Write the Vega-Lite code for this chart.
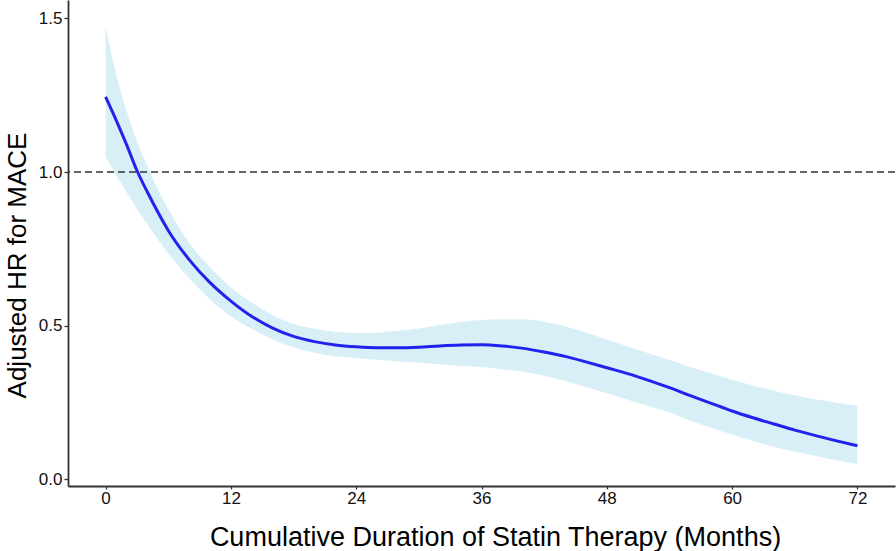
{
  "$schema": "https://vega.github.io/schema/vega-lite/v6.json",
  "width": 827,
  "height": 486,
  "autosize": {"type": "none"},
  "padding": {"left": 68, "top": 0, "right": 1, "bottom": 65},
  "background": "white",
  "config": {
    "view": {"stroke": null},
    "font": "Liberation Sans",
    "axis": {
      "grid": false,
      "domainColor": "#333333",
      "domainWidth": 1.8,
      "tickColor": "#333333",
      "tickWidth": 1.3,
      "tickSize": 4,
      "labelFont": "Liberation Sans",
      "labelFontSize": 17,
      "labelColor": "#111111",
      "titleFont": "Liberation Sans",
      "titleFontWeight": "normal",
      "titleColor": "#000000"
    }
  },
  "datasets": {
    "curve": [
      {"month": 0, "hr": 1.245, "lower": 1.05, "upper": 1.473},
      {"month": 1, "hr": 1.17, "lower": 0.99, "upper": 1.32},
      {"month": 2, "hr": 1.09, "lower": 0.935, "upper": 1.2},
      {"month": 3, "hr": 1.005, "lower": 0.88, "upper": 1.1},
      {"month": 4, "hr": 0.935, "lower": 0.83, "upper": 1.02},
      {"month": 5, "hr": 0.87, "lower": 0.78, "upper": 0.945},
      {"month": 6, "hr": 0.81, "lower": 0.735, "upper": 0.88},
      {"month": 8, "hr": 0.715, "lower": 0.655, "upper": 0.77},
      {"month": 10, "hr": 0.64, "lower": 0.585, "upper": 0.69},
      {"month": 12, "hr": 0.58, "lower": 0.53, "upper": 0.625},
      {"month": 14, "hr": 0.53, "lower": 0.49, "upper": 0.575},
      {"month": 16, "hr": 0.492, "lower": 0.455, "upper": 0.535},
      {"month": 18, "hr": 0.465, "lower": 0.43, "upper": 0.505},
      {"month": 20, "hr": 0.448, "lower": 0.412, "upper": 0.49},
      {"month": 22, "hr": 0.437, "lower": 0.4, "upper": 0.48},
      {"month": 24, "hr": 0.431, "lower": 0.394, "upper": 0.476},
      {"month": 26, "hr": 0.428, "lower": 0.389, "upper": 0.477},
      {"month": 28, "hr": 0.428, "lower": 0.384, "upper": 0.483},
      {"month": 30, "hr": 0.43, "lower": 0.379, "upper": 0.491},
      {"month": 32, "hr": 0.434, "lower": 0.374, "upper": 0.502},
      {"month": 34, "hr": 0.437, "lower": 0.369, "upper": 0.512},
      {"month": 36, "hr": 0.438, "lower": 0.365, "upper": 0.518},
      {"month": 38, "hr": 0.434, "lower": 0.358, "upper": 0.521},
      {"month": 40, "hr": 0.426, "lower": 0.35, "upper": 0.521},
      {"month": 42, "hr": 0.414, "lower": 0.337, "upper": 0.513},
      {"month": 44, "hr": 0.4, "lower": 0.32, "upper": 0.498},
      {"month": 46, "hr": 0.382, "lower": 0.3, "upper": 0.478},
      {"month": 48, "hr": 0.363, "lower": 0.28, "upper": 0.455},
      {"month": 50, "hr": 0.344, "lower": 0.259, "upper": 0.432},
      {"month": 52, "hr": 0.322, "lower": 0.238, "upper": 0.41},
      {"month": 54, "hr": 0.298, "lower": 0.218, "upper": 0.388},
      {"month": 56, "hr": 0.272, "lower": 0.19, "upper": 0.365},
      {"month": 58, "hr": 0.247, "lower": 0.168, "upper": 0.344},
      {"month": 60, "hr": 0.222, "lower": 0.146, "upper": 0.324},
      {"month": 62, "hr": 0.2, "lower": 0.125, "upper": 0.305},
      {"month": 64, "hr": 0.18, "lower": 0.105, "upper": 0.288},
      {"month": 66, "hr": 0.16, "lower": 0.09, "upper": 0.273},
      {"month": 68, "hr": 0.142, "lower": 0.076, "upper": 0.26},
      {"month": 70, "hr": 0.125, "lower": 0.062, "upper": 0.249},
      {"month": 72, "hr": 0.109, "lower": 0.05, "upper": 0.239}
    ],
    "reference": [{"ref": 1}]
  },
  "layer": [
    {
      "data": {"name": "curve"},
      "mark": {"type": "area", "color": "#d9eff7", "opacity": 1, "interpolate": "monotone"},
      "encoding": {
        "x": {
          "field": "month", "type": "quantitative",
          "scale": {"domain": [-3.6, 75.6], "nice": false, "zero": false},
          "axis": {
            "values": [0, 12, 24, 36, 48, 60, 72],
            "title": "Cumulative Duration of Statin Therapy (Months)",
            "titleFontSize": 27,
            "titleX": 427,
            "titleY": 59,
            "titleBaseline": "alphabetic",
            "titleAlign": "center",
            "labelPadding": 1,
            "tickSize": 3
          }
        },
        "y": {
          "field": "lower", "type": "quantitative",
          "scale": {"domain": [-0.022, 1.56], "nice": false, "zero": false},
          "axis": {
            "values": [0, 0.5, 1, 1.5],
            "format": ".1f",
            "title": "Adjusted HR for MACE",
            "titleFontSize": 26,
            "titleX": -43,
            "titleY": 265,
            "titleAngle": -90,
            "titleBaseline": "alphabetic",
            "titleAlign": "center",
            "labelPadding": 2
          }
        },
        "y2": {"field": "upper"}
      }
    },
    {
      "data": {"name": "reference"},
      "mark": {"type": "rule", "color": "#333333", "strokeWidth": 1.6, "strokeDash": [7, 4]},
      "encoding": {
        "y": {"field": "ref", "type": "quantitative"}
      }
    },
    {
      "data": {"name": "curve"},
      "mark": {"type": "line", "color": "#2222ee", "strokeWidth": 3, "interpolate": "monotone"},
      "encoding": {
        "x": {"field": "month", "type": "quantitative"},
        "y": {"field": "hr", "type": "quantitative"}
      }
    }
  ]
}
